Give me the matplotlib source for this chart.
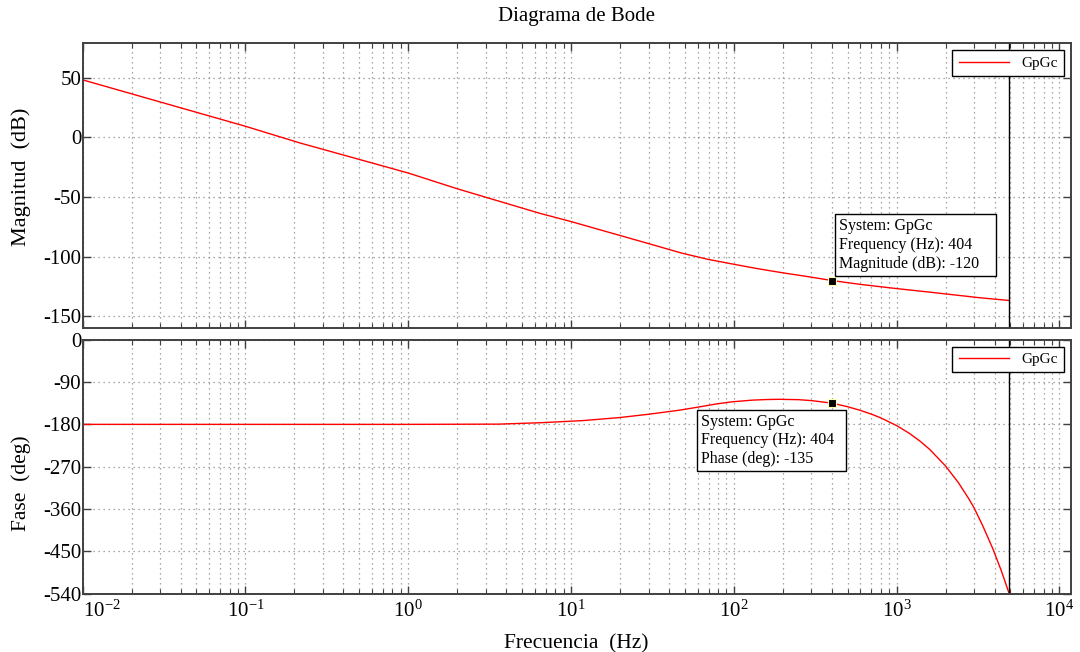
import numpy as np
import matplotlib
matplotlib.use('Agg')
import matplotlib.pyplot as plt
from matplotlib.ticker import LogLocator, NullFormatter, FixedLocator

plt.rcParams['font.family'] = 'Liberation Serif'
plt.rcParams['mathtext.fontset'] = 'custom'
plt.rcParams['mathtext.rm'] = 'Liberation Serif'
plt.rcParams['mathtext.it'] = 'Liberation Serif:italic'
plt.rcParams['axes.unicode_minus'] = False

# magnitude curve
mag_freq = [0.01, 0.1, 0.215, 1, 2, 6.4, 10, 30, 48, 70, 100, 140, 200, 280, 404,
            600, 1000, 1600, 3200, 4925]
mag_db = [48.3, 9.4, -4.5, -29.8, -43, -63.5, -70.5, -89, -97, -102.3, -106.3, -110, -113.5, -116.5, -120,
          -123.2, -126.7, -129.7, -134.3, -136.7]

# phase curve
ph_freq = [0.01, 1, 3.6, 6.5, 11.8, 19.8, 30, 46, 60, 80, 98, 130, 160, 190, 250, 300, 404,
           500, 600, 700, 800, 1000, 1200, 1400, 1600, 2000, 2400, 2800, 3000, 3400, 3900, 4400, 4925]
ph_deg = [-180, -180, -179.5, -176.5, -172, -165.6, -158.5, -150, -143.5, -136, -132, -128.5, -127.2, -126.7,
          -127.5, -129.5, -135, -142.5, -150.3, -158.2, -166.2, -182.5, -199.2, -216.2, -233.4, -268.5,
          -304, -340, -358, -397, -444, -491, -540]

nyquist = 4925
tip_freq = 404
tip_mag = -120
tip_phase = -135

mag_ticks = [-150, -100, -50, 0, 50]
ph_ticks = [-540, -450, -360, -270, -180, -90, 0]
dec_ticks = [1e-2, 1e-1, 1e0, 1e1, 1e2, 1e3, 1e4]
dec_labels = [r'$10^{-2}$', r'$10^{-1}$', r'$10^{0}$', r'$10^{1}$', r'$10^{2}$', r'$10^{3}$', r'$10^{4}$']

fig = plt.figure(figsize=(10.8, 6.52), dpi=100)
ax1 = fig.add_axes([0.0766, 0.4965, 0.9148, 0.4371])
ax2 = fig.add_axes([0.0766, 0.0894, 0.9148, 0.3896])

def style(ax):
    ax.set_xscale('log')
    ax.set_xlim(0.01, 11750)
    ax.set_xticks(dec_ticks)
    ax.xaxis.set_minor_locator(LogLocator(base=10, subs=np.arange(2, 10), numticks=20))
    ax.xaxis.set_minor_formatter(NullFormatter())
    ax.grid(True, which='major', ls=(0, (1, 3)), color='#8c8c8c', lw=0.9)
    ax.grid(True, which='minor', axis='x', ls=(0, (1, 3)), color='#8c8c8c', lw=0.9)
    ax.tick_params(which='both', direction='in', top=True, right=True, colors='#404040',
                   labelcolor='black', labelsize=15)
    ax.tick_params(axis='y', pad=1)
    ax.tick_params(which='major', length=6, width=1)
    ax.tick_params(which='minor', length=3.5, width=0.8)
    for s in ax.spines.values():
        s.set_color('#404040')
        s.set_linewidth(1.4)

style(ax1)
style(ax2)

ax1.plot(mag_freq, mag_db, color='#ff0000', lw=1.0, label='GpGc')
ax1.axvline(nyquist, color='black', lw=1.0)
ax1.set_ylim(-160, 79)
ax1.yaxis.set_major_locator(FixedLocator(mag_ticks))
ax1.tick_params(axis='x', which='both', labelbottom=False)
ax1.set_ylabel('Magnitud  (dB)', fontsize=16)
ax1.yaxis.set_label_coords(-0.052, 0.532)
ax1.set_title('Diagrama de Bode', fontsize=15, pad=16)

ax2.plot(ph_freq, ph_deg, color='#ff0000', lw=1.0, label='GpGc')
ax2.axvline(nyquist, color='black', lw=1.0)
ax2.set_ylim(-540, 0)
ax2.yaxis.set_major_locator(FixedLocator(ph_ticks))
ax2.set_xticklabels(dec_labels)
ax2.get_xticklabels()[0].set_horizontalalignment('left')
ax2.set_ylabel('Fase  (deg)', fontsize=15.5)
ax2.yaxis.set_label_coords(-0.052, 0.436)
ax2.set_xlabel('Frecuencia  (Hz)', fontsize=15.5, labelpad=9)
ax2.tick_params(axis='x', which='major', pad=5)

for ax in (ax1, ax2):
    leg = ax.legend(loc='upper right', fontsize=11, fancybox=False, framealpha=1,
                    edgecolor='black', handlelength=3.3, borderaxespad=0.45)
    leg.get_frame().set_linewidth(1.0)

box = dict(boxstyle='square,pad=0.25', fc='white', ec='black', lw=1.0)
ax1.plot([tip_freq], [tip_mag], 's', ms=6, mfc='black', mec='#ffffb0', mew=0.8, zorder=5)
ax1.annotate('System: GpGc\nFrequency (Hz): %d\nMagnitude (dB): %d   ' % (tip_freq, tip_mag),
             xy=(tip_freq, tip_mag), xytext=(5.0, 6.5), textcoords='offset points',
             ha='left', va='bottom', fontsize=11.5, linespacing=1.22, bbox=box, zorder=6)

ax2.plot([tip_freq], [tip_phase], 's', ms=6, mfc='black', mec='#ffffb0', mew=0.8, zorder=5)
ax2.annotate('System: GpGc\nFrequency (Hz): %d  \nPhase (deg): %d' % (tip_freq, tip_phase),
             xy=(tip_freq, tip_phase), xytext=(-94.5, -7.5), textcoords='offset points',
             ha='left', va='top', fontsize=11.5, linespacing=1.22, bbox=box, zorder=6)

fig.savefig('out.png', dpi=100)
